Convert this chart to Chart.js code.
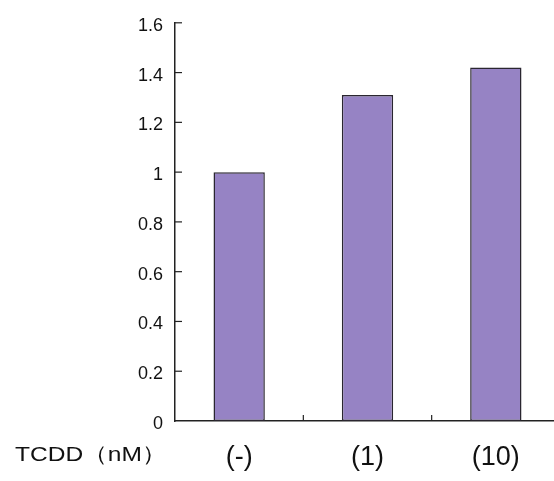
<!DOCTYPE html>
<html>
<head>
<meta charset="utf-8">
<script src="https://cdn.jsdelivr.net/npm/chart.js@4"></script>
<style>
  html, body { margin: 0; padding: 0; background: #fff; overflow: hidden; }
  #wrap { width: 562px; height: 481px; }
</style>
</head>
<body>
<div id="wrap"><canvas id="tcddChart"></canvas></div>
<script>
// data
var categories = ['(-)', '(1)', '(10)'];
var values = [1.0, 1.31, 1.42];
var yMin = 0;
var yMax = 1.6;
var yStep = 0.2;
var xTitle = 'TCDD（nM）';

// ticks are drawn inward, like the original figure
var innerTicks = {
    id: 'innerTicks',
    afterDraw: function (chart) {
        var c = chart.ctx;
        var x = chart.scales.x, y = chart.scales.y;
        c.save();
        c.strokeStyle = '#222';
        c.lineWidth = 1.2;
        y.ticks.forEach(function (t) {
            if (t.value === 0) return;
            var py = y.getPixelForValue(t.value);
            c.beginPath();
            c.moveTo(y.right, py);
            c.lineTo(y.right + 7, py);
            c.stroke();
        });
        for (var i = 0; i < categories.length - 1; i++) {
            var px = (x.getPixelForValue(i) + x.getPixelForValue(i + 1)) / 2;
            c.beginPath();
            c.moveTo(px, x.top);
            c.lineTo(px, x.top - 6);
            c.stroke();
        }
        // axis title on the left, in line with category labels
        c.fillStyle = '#111';
        c.font = '21px "Liberation Sans", Arial, sans-serif';
        c.textBaseline = 'middle';
        c.translate(15, 455);
        c.scale(1.17, 1);
        c.fillText(xTitle, 0, 0);
        c.restore();
    }
};

var ctx = document.getElementById('tcddChart').getContext('2d');
var chart = new Chart(ctx, {
    type: 'bar',
    data: {
        labels: categories,
        datasets: [{
            data: values,
            backgroundColor: '#9683c4',
            borderColor: '#2a2630',
            borderWidth: 1.5,
            borderSkipped: false,
            categoryPercentage: 1.0,
            barPercentage: 0.4
        }]
    },
    options: {
        responsive: true,
        maintainAspectRatio: false,
        animation: false,
        layout: { padding: { top: 17, right: 2, left: 0, bottom: 0 } },
        plugins: {
            legend: { display: false },
            tooltip: { enabled: false }
        },
        scales: {
            x: {
                grid: { display: false, drawTicks: false },
                border: { display: true, color: '#222', width: 1.5 },
                ticks: {
                    color: '#111',
                    padding: 20,
                    font: { family: '"Liberation Sans", Arial, sans-serif', size: 27 }
                },
                afterFit: function (scale) { scale.height = 60; }
            },
            y: {
                min: yMin,
                max: yMax,
                grid: { display: false, drawTicks: false },
                border: { display: true, color: '#222', width: 1.5 },
                ticks: {
                    stepSize: yStep,
                    color: '#111',
                    padding: 12,
                    labelOffset: 3,
                    font: { family: '"Liberation Sans", Arial, sans-serif', size: 18 },
                    callback: function (v) { return String(Number(v.toFixed(1))); }
                },
                afterFit: function (scale) { scale.width = 175; }
            }
        }
    },
    plugins: [innerTicks]
});
</script>
</body>
</html>
